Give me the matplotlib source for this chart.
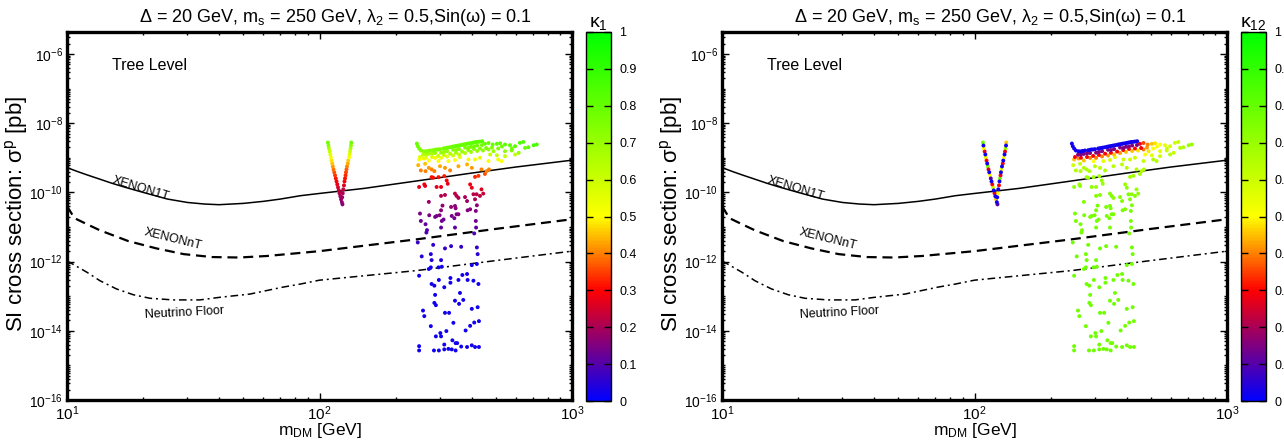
import numpy as np
import matplotlib
matplotlib.use("Agg")
import matplotlib.pyplot as plt
from matplotlib.colors import LinearSegmentedColormap, Normalize
from matplotlib.cm import ScalarMappable
from matplotlib.ticker import LogLocator, NullFormatter

plt.rcParams['font.family'] = ['Liberation Sans', 'DejaVu Sans']
plt.rcParams['mathtext.fontset'] = 'custom'
plt.rcParams['mathtext.rm'] = 'Liberation Sans'
plt.rcParams['mathtext.it'] = 'Liberation Sans:italic'
plt.rcParams['mathtext.bf'] = 'Liberation Sans:bold'

# ---- experimental limits (m_DM [GeV], sigma [pb]) ----
xe1t_m = [10, 11, 12, 13.5, 15, 17, 20, 25, 30, 35, 40, 50, 60, 70, 84, 100, 150, 243, 400, 600, 1000]
xe1t_sig = [5.2e-10, 4.0e-10, 3.2e-10, 2.4e-10, 1.85e-10, 1.4e-10, 1.0e-10, 6.4e-11, 5.1e-11, 4.6e-11,
            4.4e-11, 4.8e-11, 5.5e-11, 6.4e-11, 8.0e-11, 9.3e-11, 1.3e-10, 2.14e-10, 3.6e-10, 5.4e-10, 8.5e-10]

xent_m = [10, 10.7, 12, 13.5, 17.5, 22.6, 29, 37.5, 48, 62, 100, 243, 500, 1000]
xent_sig = [4.0e-11, 1.8e-11, 1.2e-11, 8.0e-12, 3.9e-12, 2.4e-12, 1.64e-12, 1.35e-12, 1.31e-12, 1.45e-12,
            2.0e-12, 4.4e-12, 8.8e-12, 1.67e-11]

nu_m = [10, 12, 13.5, 15.7, 18.3, 21.3, 26.3, 33.6, 40.4, 53, 71.5, 84, 100, 243, 500, 1000]
nu_sig = [1.05e-12, 4.9e-13, 2.8e-13, 1.62e-13, 1.1e-13, 8.7e-14, 7.8e-14, 7.8e-14, 9.3e-14, 1.15e-13,
          1.82e-13, 2.24e-13, 2.9e-13, 5.5e-13, 1.07e-12, 2.0e-12]

# ---- scan points: mass, sigma, kappa1, kappa12 ----
v_left_m = [108.0, 108.5, 109.0, 109.7, 110.4, 110.9, 111.6, 112.3, 112.9, 113.6, 114.4, 115.2, 116.0,
            116.8, 117.6, 118.4, 119.2, 120.0, 120.9, 121.7, 122.6, 123.3]
v_left_sig = [2.75e-9, 2.25e-9, 1.85e-9, 1.51e-9, 1.24e-9, 1.02e-9, 8.3e-10, 6.8e-10, 5.6e-10, 4.6e-10,
              3.8e-10, 3.1e-10, 2.53e-10, 2.07e-10, 1.70e-10, 1.39e-10, 1.14e-10, 9.4e-11, 7.7e-11,
              6.3e-11, 5.2e-11, 4.5e-11]
v_left_k1 = [0.78, 0.72, 0.66, 0.6, 0.55, 0.52, 0.48, 0.45, 0.42, 0.39, 0.36, 0.34, 0.31, 0.29, 0.27,
             0.25, 0.23, 0.21, 0.19, 0.18, 0.17, 0.16]
v_left_k12 = [0.8, 0.02, 0.5, 0.28, 0.02, 0.55, 0.3, 0.02, 0.75, 0.25, 0.02, 0.5, 0.1, 0.02, 0.3, 0.6,
              0.02, 0.28, 0.02, 0.45, 0.02, 0.1]

v_right_m = [133.6, 133.3, 132.7, 132.1, 131.5, 130.9, 130.0, 129.4, 128.5, 127.9, 127.3, 126.8, 126.2,
             125.6, 125.0, 124.2, 123.6, 123.0]
v_right_sig = [2.75e-9, 2.25e-9, 1.85e-9, 1.51e-9, 1.24e-9, 1.02e-9, 8.3e-10, 6.8e-10, 5.6e-10, 4.6e-10,
               3.8e-10, 3.1e-10, 2.53e-10, 2.07e-10, 1.59e-10, 1.22e-10, 9.4e-11, 7.2e-11]
v_right_k1 = [0.78, 0.72, 0.66, 0.6, 0.55, 0.5, 0.46, 0.43, 0.4, 0.37, 0.35, 0.33, 0.31, 0.29, 0.26,
              0.23, 0.21, 0.19]
v_right_k12 = [0.45, 0.02, 0.7, 0.28, 0.02, 0.5, 0.02, 0.3, 0.02, 0.55, 0.02, 0.28, 0.8, 0.02, 0.3,
               0.02, 0.5, 0.02]

top_m = [243, 245, 248, 252, 258, 262, 266, 269, 274, 282, 287, 291, 295, 300, 309, 314, 319, 323, 329,
         335, 339, 344, 349, 354, 360, 367, 371, 377, 383, 388, 395, 402, 407, 413, 419, 425, 432, 441]
top_sig = [2.57e-9, 2.15e-9, 1.85e-9, 1.62e-9, 1.54e-9, 1.51e-9, 1.54e-9, 1.57e-9, 1.62e-9, 1.65e-9,
           1.7e-9, 1.73e-9, 1.73e-9, 1.77e-9, 1.85e-9, 1.89e-9, 1.93e-9, 1.97e-9, 2.01e-9, 2.07e-9,
           2.11e-9, 2.15e-9, 2.2e-9, 2.25e-9, 2.3e-9, 2.36e-9, 2.41e-9, 2.46e-9, 2.52e-9, 2.57e-9,
           2.62e-9, 2.69e-9, 2.75e-9, 2.8e-9, 2.86e-9, 2.88e-9, 2.94e-9, 3.0e-9]
top_k1 = [0.8, 0.78, 0.76, 0.74, 0.72, 0.72, 0.72, 0.72, 0.74, 0.74, 0.75, 0.75, 0.75, 0.76, 0.76, 0.77,
          0.77, 0.78, 0.78, 0.78, 0.79, 0.79, 0.8, 0.8, 0.8, 0.8, 0.8, 0.8, 0.8, 0.81, 0.81, 0.81, 0.82,
          0.82, 0.82, 0.82, 0.82, 0.82]
top_k12 = 0.02

row2_m = [257, 264, 271, 279, 287, 303, 311, 320, 338, 347, 357, 377, 388, 398, 409, 421, 440]
row2_sig = [1.22e-9, 1.24e-9, 1.29e-9, 1.33e-9, 1.37e-9, 1.40e-9, 1.47e-9, 1.55e-9, 1.70e-9, 1.67e-9,
            1.78e-9, 1.97e-9, 1.91e-9, 2.07e-9, 2.11e-9, 2.25e-9, 2.33e-9]
row2_k1 = [0.64, 0.65, 0.66, 0.68, 0.69, 0.7, 0.71, 0.72, 0.74, 0.74, 0.75, 0.76, 0.76, 0.77, 0.77, 0.78, 0.78]
row2_k12 = 0.15

row3_m = [250, 264, 279, 295, 311, 329, 347, 367, 388, 409, 432, 457]
row3_sig = [1.05e-9, 1.0e-9, 1.05e-9, 1.13e-9, 1.20e-9, 1.31e-9, 1.39e-9, 1.51e-9, 1.67e-9, 1.79e-9,
            1.85e-9, 1.91e-9]
row3_k1 = [0.56, 0.54, 0.56, 0.6, 0.62, 0.66, 0.68, 0.7, 0.72, 0.74, 0.75, 0.76]
row3_k12 = 0.3

mid_m = [303, 320, 338, 357, 377, 398, 421, 444, 287, 271, 258, 248, 296, 324, 360, 389, 413, 432, 467,
         510, 526, 344]
mid_sig = [9.9e-10, 1.09e-9, 1.16e-9, 1.24e-9, 1.37e-9, 1.47e-9, 1.57e-9, 1.62e-9, 9.9e-10, 8.3e-10,
           9.5e-10, 8.9e-10, 8.0e-10, 8.0e-10, 1.04e-9, 8.9e-10, 8.9e-10, 1.0e-9, 8.0e-10, 8.9e-10,
           8.0e-10, 8.6e-10]
mid_k1 = [0.52, 0.56, 0.6, 0.62, 0.66, 0.68, 0.7, 0.72, 0.52, 0.5, 0.52, 0.5, 0.5, 0.5, 0.55, 0.52, 0.52,
          0.55, 0.5, 0.52, 0.5, 0.5]
mid_k12 = [0.4, 0.4, 0.42, 0.45, 0.42, 0.45, 0.45, 0.48, 0.4, 0.45, 0.42, 0.45, 0.5, 0.55, 0.55, 0.6,
           0.6, 0.6, 0.62, 0.65, 0.66, 0.58]

ext_m = [452, 467, 485, 504, 519, 543, 568, 595, 622, 641, 652, 672, 705, 725, 467, 489, 510, 543, 577,
         615, 543, 504, 474, 528, 578, 482, 595]
ext_sig = [2.52e-9, 2.67e-9, 2.41e-9, 2.52e-9, 2.62e-9, 2.41e-9, 2.3e-9, 2.15e-9, 2.7e-9, 2.86e-9,
           1.93e-9, 2.01e-9, 2.3e-9, 2.41e-9, 1.73e-9, 1.54e-9, 1.85e-9, 1.54e-9, 1.62e-9, 1.39e-9,
           1.11e-9, 1.18e-9, 1.24e-9, 2.11e-9, 1.85e-9, 1.97e-9, 1.24e-9]
ext_k1 = [0.8, 0.8, 0.8, 0.82, 0.82, 0.82, 0.83, 0.83, 0.84, 0.85, 0.8, 0.82, 0.86, 0.86, 0.72, 0.7,
          0.75, 0.72, 0.75, 0.7, 0.62, 0.62, 0.62, 0.78, 0.78, 0.75, 0.62]
ext_k12 = [0.28, 0.35, 0.4, 0.45, 0.48, 0.5, 0.55, 0.58, 0.6, 0.62, 0.66, 0.66, 0.7, 0.7, 0.4, 0.48,
           0.5, 0.55, 0.6, 0.62, 0.6, 0.55, 0.5, 0.5, 0.6, 0.42, 0.65]

orange_m = [246, 252, 263, 278, 285, 314, 329, 384, 401, 438, 452, 469, 426, 413, 300, 355, 262, 271, 459]
orange_sig = [6.1e-10, 4.3e-10, 4.1e-10, 4.6e-10, 4.1e-10, 5.1e-10, 4.3e-10, 6.4e-10, 5.1e-10, 4.6e-10,
              3.4e-10, 4.6e-10, 3.0e-10, 2.8e-10, 5.7e-10, 5.7e-10, 6.7e-10, 5.1e-10, 4.1e-10]
orange_k1 = [0.44, 0.4, 0.4, 0.4, 0.4, 0.42, 0.4, 0.44, 0.42, 0.4, 0.36, 0.4, 0.34, 0.33, 0.43, 0.43,
             0.45, 0.42, 0.4]
orange_k12 = [0.6, 0.65, 0.65, 0.66, 0.66, 0.64, 0.66, 0.64, 0.65, 0.65, 0.68, 0.65, 0.68, 0.68, 0.64,
              0.64, 0.62, 0.65, 0.66]

red_m = [248, 260, 262, 282, 296, 319, 322, 291, 303, 395, 401, 438, 445, 432, 278, 312]
red_sig = [1.43e-10, 1.70e-10, 1.53e-10, 2.65e-10, 2.75e-10, 2.2e-10, 1.77e-10, 1.43e-10, 1.43e-10,
           1.70e-10, 1.36e-10, 1.22e-10, 9.2e-11, 7.9e-11, 2.75e-10, 2.95e-10]
red_k1 = [0.27, 0.28, 0.27, 0.31, 0.31, 0.3, 0.28, 0.27, 0.27, 0.28, 0.27, 0.26, 0.24, 0.22, 0.31, 0.32]
red_k12 = [0.72, 0.7, 0.72, 0.68, 0.7, 0.7, 0.7, 0.72, 0.7, 0.7, 0.72, 0.7, 0.72, 0.74, 0.68, 0.68]

pred_m = [271, 303, 314, 344, 355, 377, 384, 407, 419, 413, 349]
pred_sig = [5.3e-11, 7.9e-11, 8.4e-11, 9.2e-11, 6.9e-11, 7.3e-11, 5.6e-11, 8.8e-11, 8.8e-11, 6.3e-11, 7.9e-11]
pred_k1 = [0.18, 0.21, 0.21, 0.22, 0.2, 0.2, 0.19, 0.22, 0.22, 0.2, 0.21]
pred_k12 = 0.74

purple_m = [250, 252, 272, 263, 266.5, 265, 287, 291, 299, 303, 307, 305, 303, 310, 332, 344, 346, 334,
            342, 349, 355, 344, 386, 395, 416, 420, 416, 417, 410]
purple_sig = [2.44e-11, 1.49e-11, 2.18e-11, 1.2e-11, 8.1e-12, 6.9e-12, 1.95e-11, 2.08e-11, 2.18e-11,
              3.03e-11, 4.14e-11, 1.49e-11, 9.6e-12, 1.64e-11, 3.78e-11, 4.04e-11, 3.47e-11, 2.08e-11,
              1.79e-11, 2.33e-11, 2.33e-11, 9.6e-12, 3.03e-11, 3.24e-11, 2.9e-11, 4.23e-11, 1.49e-11,
              9.6e-12, 6.5e-12]
purple_k1 = [0.15, 0.13, 0.15, 0.12, 0.1, 0.09, 0.14, 0.14, 0.15, 0.16, 0.17, 0.13, 0.11, 0.13, 0.17,
             0.17, 0.16, 0.14, 0.14, 0.15, 0.15, 0.11, 0.16, 0.16, 0.16, 0.17, 0.13, 0.11, 0.09]
purple_k12 = 0.76

bluehi_m = [245, 282, 314, 332, 364, 420, 254, 276, 278, 303, 423]
bluehi_sig = [3.57e-12, 3.04e-12, 2.4e-12, 2.79e-12, 2.67e-12, 2.56e-12, 1.41e-12, 1.64e-12, 1.1e-12,
              1.1e-12, 1.64e-12]
bluehi_k1 = [0.07, 0.06, 0.06, 0.06, 0.06, 0.06, 0.05, 0.05, 0.04, 0.04, 0.05]
bluehi_k12 = 0.78

blue_m = [248, 271, 276, 296, 305, 401, 420,
          278, 285, 297, 312, 330, 330, 355, 368, 384, 386, 407, 426,
          287, 360, 344, 371, 357, 285, 289,
          257, 260, 314, 326, 401, 423,
          339, 379, 395, 410, 428,
          276, 301, 303, 318, 289,
          336, 346, 351, 312, 324, 334, 346, 364, 384, 401, 413, 428,
          248, 248, 284, 297, 312]
blue_sig = [3.9e-13, 6.1e-13, 6.8e-13, 6.8e-13, 7.1e-13, 7.9e-13, 8.5e-13,
            2.25e-13, 2.01e-13, 2.94e-13, 1.81e-13, 2.45e-13, 3.35e-13, 2.94e-13, 4.09e-13, 4.37e-13,
            2.94e-13, 2.8e-13, 2.25e-13,
            1.09e-13, 1.24e-13, 7.4e-14, 7.8e-14, 6.0e-14, 6.4e-14, 5.5e-14,
            3.84e-14, 2.65e-14, 3.3e-14, 3.3e-14, 4.3e-14, 4.8e-14,
            1.7e-14, 1.02e-14, 1.39e-14, 1.73e-14, 1.9e-14,
            1.36e-14, 8.6e-15, 6.9e-15, 9.8e-15, 6.9e-15,
            5.3e-15, 4.4e-15, 4.4e-15, 4.0e-15, 3.0e-15, 2.9e-15, 2.7e-15, 3.5e-15, 3.4e-15, 3.8e-15,
            3.4e-15, 3.4e-15,
            3.6e-15, 2.7e-15, 2.7e-15, 2.7e-15, 2.9e-15]
blue_k1 = 0.02
blue_k12 = 0.78

groups = [
    (v_left_m, v_left_sig, v_left_k1, v_left_k12),
    (v_right_m, v_right_sig, v_right_k1, v_right_k12),
    (blue_m, blue_sig, blue_k1, blue_k12),
    (bluehi_m, bluehi_sig, bluehi_k1, bluehi_k12),
    (purple_m, purple_sig, purple_k1, purple_k12),
    (pred_m, pred_sig, pred_k1, pred_k12),
    (red_m, red_sig, red_k1, red_k12),
    (orange_m, orange_sig, orange_k1, orange_k12),
    (mid_m, mid_sig, mid_k1, mid_k12),
    (ext_m, ext_sig, ext_k1, ext_k12),
    (row3_m, row3_sig, row3_k1, row3_k12),
    (row2_m, row2_sig, row2_k1, row2_k12),
    (top_m, top_sig, top_k1, top_k12),
]

mass, sigma, kap1, kap12 = [], [], [], []
for gm, gs, g1, g12 in groups:
    n = len(gm)
    mass.append(np.asarray(gm, float))
    sigma.append(np.asarray(gs, float))
    kap1.append(np.broadcast_to(np.asarray(g1, float), (n,)))
    kap12.append(np.broadcast_to(np.asarray(g12, float), (n,)))
mass = np.concatenate(mass)
sigma = np.concatenate(sigma)
kap1 = np.concatenate(kap1)
kap12 = np.concatenate(kap12)

cmap = LinearSegmentedColormap.from_list(
    "kap", [(0.0, (0, 0, 1)), (0.3, (1, 0, 0)), (0.5, (1, 1, 0)), (1.0, (0, 1, 0))])
norm = Normalize(0, 1)

W, H = 1284, 442
fig = plt.figure(figsize=(W / 100, H / 100), dpi=100)

title = (u"\u0394 = 20 GeV, m$_\\mathregular{s}$ = 250 GeV, \u03bb$_\\mathregular{2}$ = 0.5,"
         u"Sin(\u03c9) = 0.1")


def panel(x0, kap, klabel, draw_last_high):
    ax = fig.add_axes([x0 / W, 42 / H, 505 / W, 368 / H])
    ax.set_xscale('log')
    ax.set_yscale('log')
    ax.set_xlim(10, 1000)
    ax.set_ylim(1e-16, 4.3e-6)

    ax.plot(xe1t_m, xe1t_sig, color='black', lw=1.1, solid_joinstyle='round')
    ax.plot(xent_m, xent_sig, color='black', lw=1.6, dashes=(4.5, 2.6))
    ax.plot(nu_m, nu_sig, color='black', lw=1.1, dashes=(5, 2.5, 1.3, 2.5))

    order = np.argsort(kap) if draw_last_high else np.argsort(-kap)
    ax.scatter(mass[order], sigma[order], c=kap[order], cmap=cmap, norm=norm,
               s=8, linewidths=0, zorder=3)

    ax.text(0.147, 0.573, "XENON1T", transform=ax.transAxes, fontsize=9,
            rotation=-17, ha='center', va='center')
    ax.text(0.21, 0.437, "XENONnT", transform=ax.transAxes, fontsize=9,
            rotation=-14, ha='center', va='center')
    ax.text(0.232, 0.236, "Neutrino Floor", transform=ax.transAxes, fontsize=9,
            rotation=3, ha='center', va='center')
    ax.text(0.089, 0.91, "Tree Level", transform=ax.transAxes, fontsize=11.5,
            ha='left', va='center')

    ax.set_yticks([1e-16, 1e-14, 1e-12, 1e-10, 1e-8, 1e-6])
    ax.yaxis.set_minor_locator(LogLocator(base=10, subs=np.arange(1, 10), numticks=30))
    ax.yaxis.set_minor_formatter(NullFormatter())
    ax.xaxis.set_minor_locator(LogLocator(base=10, subs=np.arange(2, 10), numticks=10))
    ax.xaxis.set_minor_formatter(NullFormatter())
    ax.tick_params(which='both', direction='in', top=True, right=True, width=1)
    ax.tick_params(which='major', length=5)
    ax.tick_params(which='minor', length=2.5)
    ax.tick_params(axis='y', labelsize=10, pad=3)
    ax.tick_params(axis='x', labelsize=11, pad=3.5)
    for s in ax.spines.values():
        s.set_linewidth(2.4)

    fig.text((x0 + 269) / W, 1 - 17 / H, title, fontsize=13, ha='center', va='center')
    fig.text((x0 + 253) / W, 1 - 431 / H, "m$_\\mathregular{DM}$ [GeV]", fontsize=12.5,
             ha='center', va='center')
    fig.text((x0 - 50) / W, 1 - 214 / H, "SI cross section: \u03c3$^\\mathregular{p}$ [pb]",
             fontsize=16, rotation=90, ha='center', va='center')

    cax = fig.add_axes([(x0 + 519) / W, 41 / H, 25 / W, 369 / H])
    cb = fig.colorbar(ScalarMappable(norm=norm, cmap=cmap), cax=cax)
    cb.set_ticks(np.arange(0, 1.01, 0.1))
    cb.set_ticklabels(["0", "0.1", "0.2", "0.3", "0.4", "0.5", "0.6", "0.7", "0.8", "0.9", "1"])
    cb.outline.set_linewidth(1.0)
    cax.tick_params(direction='in', left=True, right=True, length=5, width=1,
                    labelsize=9, pad=6)
    cax.minorticks_off()
    cax.set_title(klabel, fontsize=14, pad=1)
    return ax


panel(67, kap1, u"\u03ba$_\\mathregular{1}$", True)
panel(722, kap12, u"\u03ba$_\\mathregular{12}$", False)

fig.savefig("out.png", dpi=100)
